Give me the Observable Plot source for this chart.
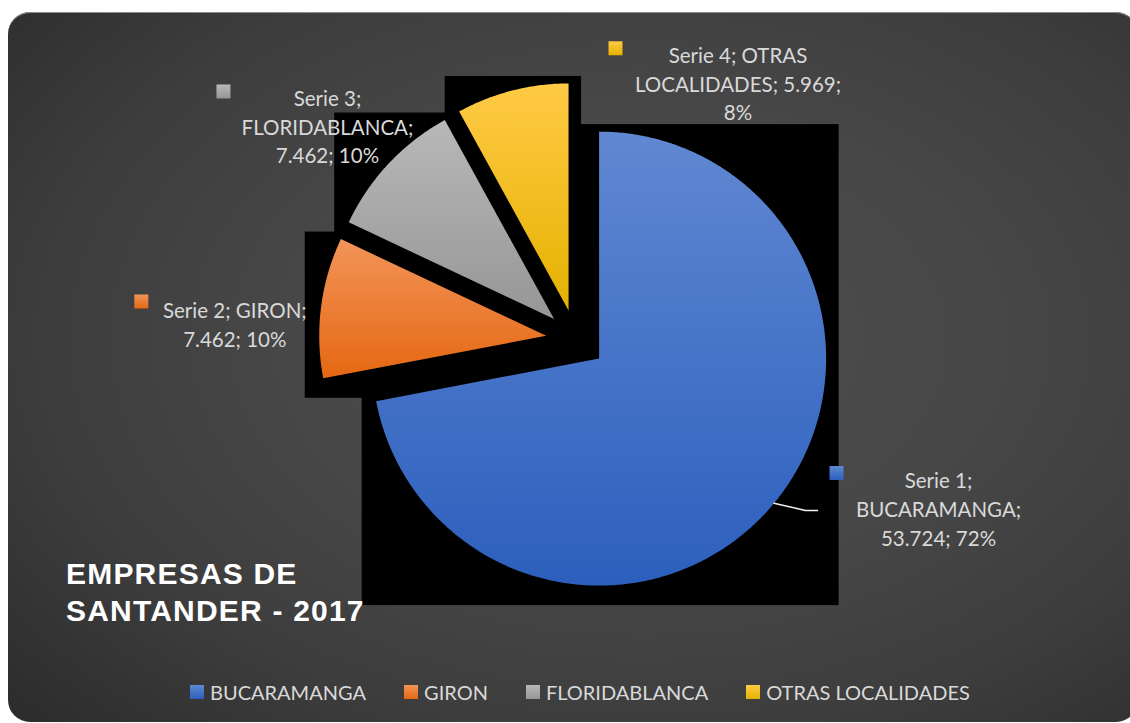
<!DOCTYPE html>
<html>
<head>
<meta charset="utf-8">
<script src="https://cdn.jsdelivr.net/npm/d3@7"></script>
<script src="https://cdn.jsdelivr.net/npm/@observablehq/plot@0.6"></script>
<style>
  html, body { margin: 0; padding: 0; background: #ffffff; width: 1130px; height: 723px; overflow: hidden; }
  #frame {
    position: absolute; left: 8px; top: 12px; width: 1130px; height: 710px;
    border-radius: 22px;
    background: radial-gradient(ellipse 78% 82% at 56% 46%, #4e4e4e 0%, #474747 40%, #3d3d3d 68%, #2a2a2a 100%);
    box-shadow: inset 0 1px 0 #8c8c8c;
  }
  #chart { position: absolute; left: 0; top: 0; }
  #title {
    position: absolute; left: 66px; top: 555px;
    font-family: "Liberation Sans", Arial, sans-serif; font-weight: bold; font-size: 30px;
    line-height: 37px; letter-spacing: 1.2px; color: #ffffff; white-space: pre;
  }
  #legend {
    position: absolute; left: 190px; top: 682px; display: flex; gap: 38px;
    font-family: Lato, sans-serif; font-size: 20px; line-height: 20px; color: #d9d9d9;
  }
  #legend .item { display: flex; align-items: flex-start; gap: 6px; }
  #legend .sw { width: 14px; height: 14px; margin-top: 3px; }
</style>
</head>
<body>
<div id="frame"></div>
<div id="chart"></div>
<div id="title"></div>
<div id="legend"></div>
<script>
// ---- data ----
const categories = ["BUCARAMANGA", "GIRON", "FLORIDABLANCA", "OTRAS LOCALIDADES"];
const seriesNames = ["Serie 1", "Serie 2", "Serie 3", "Serie 4"];
const values = [53724, 7462, 7462, 5969];
const titleLines = ["EMPRESAS DE", "SANTANDER - 2017"];

// ---- styles ----
const colorsTop = ["#6088d2", "#f29459", "#b8b8b8", "#ffca45"];
const colorsBottom = ["#2c5fbd", "#e56812", "#969696", "#e4b200"];
const textColor = "#d9d9d9";
const fs = 20.5;
const lineH = 28.6;

// ---- layout ----
const W = 1130, H = 723;
const cx = 575.5, cy = 339, R = 227, explodePx = 30;
const shadow = {left: -14, right: -13, top: -7, bottom: -20};
// label offsets (px) from each slice's outer mid-arc point
const labelLayout = [
  {tx: 164.5, tb: -20.6, sx: 62.5, sy: -30.3, words: [2, 1, 2]},
  {tx: -86.2, tb: 4.9, sx: -179.7, sy: -5.8, words: [3, 2]},
  {tx: -61.2, tb: -63.1, sx: -165.2, sy: -72.1, words: [2, 1, 2]},
  {tx: 225.9, tb: -33.4, sx: 103.4, sy: -42.3, words: [3, 2, 1]}
];
const leaderPx = [[0, 0], [31.5, 7.1], [43.5, 7.1]];

// ---- geometry from data ----
const total = d3.sum(values);
const locale = d3.formatLocale({decimal: ",", thousands: ".", grouping: [3], currency: ["$", ""]});
const fmt = locale.format(",");
const arcs = d3.pie().sort(null)(values);
const ex = explodePx / R;

const slices = arcs.map((a, i) => {
  const mid = (a.startAngle + a.endAngle) / 2;
  const ox = ex * Math.sin(mid), oy = ex * Math.cos(mid);
  const pts = [{x: ox, y: oy}];
  const n = Math.max(8, Math.ceil((a.endAngle - a.startAngle) / (Math.PI / 360)));
  for (let k = 0; k <= n; k++) {
    const t = a.startAngle + (a.endAngle - a.startAngle) * k / n;
    pts.push({x: ox + Math.sin(t), y: oy + Math.cos(t)});
  }
  const xs = pts.map(p => p.x), ys = pts.map(p => p.y);
  return {
    i, name: categories[i], value: values[i], pts,
    bx1: d3.min(xs), bx2: d3.max(xs), by1: d3.min(ys), by2: d3.max(ys),
    ax: ox + Math.sin(mid), ay: oy + Math.cos(mid)
  };
});

const labels = slices.map((s, i) => {
  const L = labelLayout[i];
  const pct = Math.round(values[i] / total * 100);
  const words = `${seriesNames[i]}; ${categories[i]}; ${fmt(values[i])}; ${pct}%`.split(" ");
  const lines = []; let p = 0;
  for (const c of L.words) { lines.push(words.slice(p, p + c).join(" ")); p += c; }
  return {
    i,
    text: lines.join("\n"),
    x: s.ax + L.tx / R,
    y: s.ay - (L.tb - 0.71 * fs) / R,
    sqx: s.ax + L.sx / R,
    sqy: s.ay - L.sy / R
  };
});

const leader = leaderPx.map(([dx, dy]) => ({x: slices[0].ax + dx / R, y: slices[0].ay - dy / R}));

const marks = [
  Plot.rect(slices, {
    x1: "bx1", x2: "bx2", y1: "by1", y2: "by2", fill: "black",
    insetLeft: shadow.left, insetRight: shadow.right, insetTop: shadow.top, insetBottom: shadow.bottom
  }),
  ...slices.map((s, i) => Plot.line(s.pts, {x: "x", y: "y", fill: `url(#g${i})`, stroke: "none", curve: "linear-closed"})),
  Plot.line(leader, {x: "x", y: "y", stroke: "#f2f2f2", strokeWidth: 1.5}),
  ...labels.map((l, i) => Plot.dot([l], {x: "sqx", y: "sqy", symbol: "square", r: 14 / Math.sqrt(Math.PI), fill: `url(#g${i})`, stroke: "none"})),
  Plot.text(labels, {
    x: "x", y: "y", text: "text", textAnchor: "middle", lineAnchor: "top",
    lineHeight: lineH / fs, fontSize: fs, fontFamily: "Lato", fill: textColor
  })
];

const svg = Plot.plot({
  width: W, height: H, margin: 0,
  x: {domain: [(0 - cx) / R, (W - cx) / R], range: [0, W], axis: null},
  y: {domain: [(cy - H) / R, cy / R], range: [H, 0], axis: null},
  style: {background: "transparent", overflow: "visible"},
  marks
});

const defs = d3.create("svg:defs");
colorsTop.forEach((c, i) => {
  const g = defs.append("linearGradient").attr("id", "g" + i)
    .attr("x1", 0).attr("y1", 0).attr("x2", 0).attr("y2", 1);
  g.append("stop").attr("offset", "0%").attr("stop-color", colorsTop[i]);
  g.append("stop").attr("offset", "100%").attr("stop-color", colorsBottom[i]);
});
svg.insertBefore(defs.node(), svg.firstChild);
document.getElementById("chart").appendChild(svg);

document.getElementById("title").textContent = titleLines.join("\n");

const legend = d3.select("#legend");
categories.forEach((c, i) => {
  const it = legend.append("div").attr("class", "item");
  it.append("div").attr("class", "sw")
    .style("background", `linear-gradient(${colorsTop[i]}, ${colorsBottom[i]})`);
  it.append("span").text(c);
});
</script>
</body>
</html>
